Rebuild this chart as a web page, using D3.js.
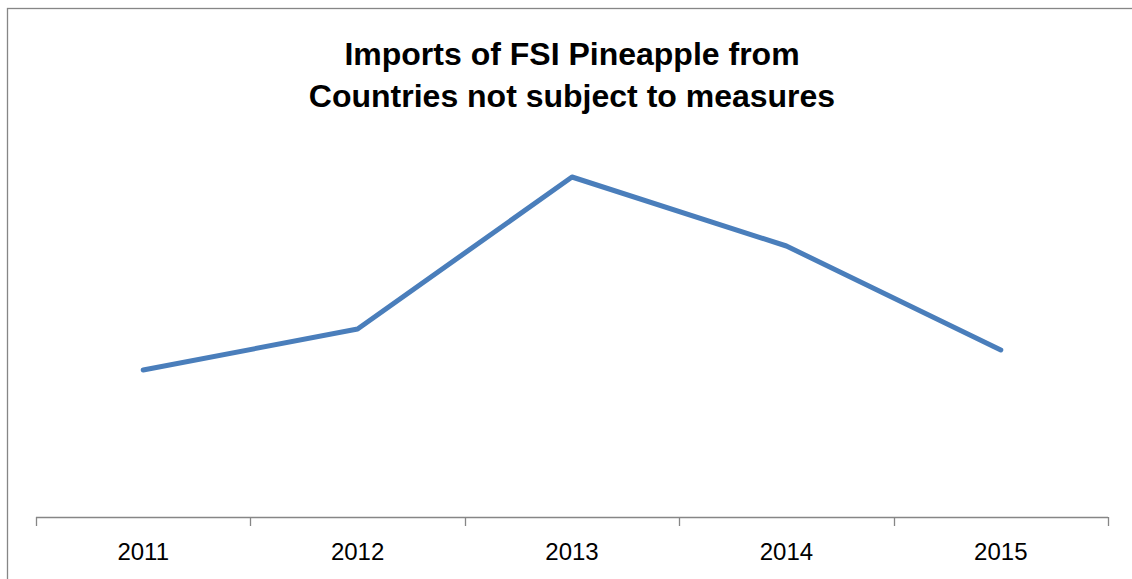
<!DOCTYPE html>
<html>
<head>
<meta charset="utf-8">
<script src="https://cdn.jsdelivr.net/npm/d3@7"></script>
<style>
  html, body { margin: 0; padding: 0; background: #fff; }
  svg { display: block; }
</style>
</head>
<body>
<svg id="chart" width="1132" height="579"></svg>
<script>
const titleLines = ["Imports of FSI Pineapple from", "Countries not subject to measures"];
const years = ["2011", "2012", "2013", "2014", "2015"];
const imports = [1470, 1880, 3400, 2710, 1670];

const svg = d3.select("#chart");
const W = 1132, H = 579;
const plot = { left: 36, right: 1108, top: 117, bottom: 517 };

// chart border
svg.append("rect")
  .attr("x", 7.5).attr("y", 8.5)
  .attr("width", 1200).attr("height", 700)
  .attr("fill", "#fff")
  .attr("stroke", "#868686")
  .attr("stroke-width", 1.3);

// title
const title = svg.append("text")
  .attr("text-anchor", "middle")
  .attr("font-family", "'Liberation Sans', Arial, sans-serif")
  .attr("font-weight", "bold")
  .attr("font-size", 32)
  .attr("fill", "#000");
titleLines.forEach((t, i) => {
  title.append("tspan").attr("x", 572).attr("y", 65 + i * 42).text(t);
});

const x = d3.scaleBand().domain(years).range([plot.left, plot.right]).padding(0);
const y = d3.scaleLinear().domain([0, 4000]).range([plot.bottom, plot.top]);

// axis line and boundary ticks
const axisG = svg.append("g").attr("stroke", "#868686").attr("stroke-width", 1.3);
axisG.append("line")
  .attr("x1", x(years[0])).attr("x2", x(years[years.length - 1]) + x.bandwidth())
  .attr("y1", plot.bottom + 0.5).attr("y2", plot.bottom + 0.5);
const bounds = years.map(d => x(d)).concat([x(years[years.length - 1]) + x.bandwidth()]);
axisG.selectAll("line.tick").data(bounds).enter().append("line")
  .attr("class", "tick")
  .attr("x1", d => Math.round(d) + 0.5).attr("x2", d => Math.round(d) + 0.5)
  .attr("y1", plot.bottom).attr("y2", plot.bottom + 9);

// labels
const labels = svg.append("g")
  .attr("transform", `translate(0,${plot.bottom})`)
  .call(d3.axisBottom(x).tickSize(0).tickPadding(26));
labels.select(".domain").remove();
labels.selectAll("text")
  .attr("font-family", "'Liberation Sans', Arial, sans-serif")
  .attr("font-size", 24)
  .attr("fill", "#000");

// line
const line = d3.line()
  .x((d, i) => x(years[i]) + x.bandwidth() / 2)
  .y(d => y(d));
svg.append("path")
  .datum(imports)
  .attr("d", line)
  .attr("fill", "none")
  .attr("stroke", "#4a7ebb")
  .attr("stroke-width", 5)
  .attr("stroke-linejoin", "round")
  .attr("stroke-linecap", "round");
</script>
</body>
</html>
